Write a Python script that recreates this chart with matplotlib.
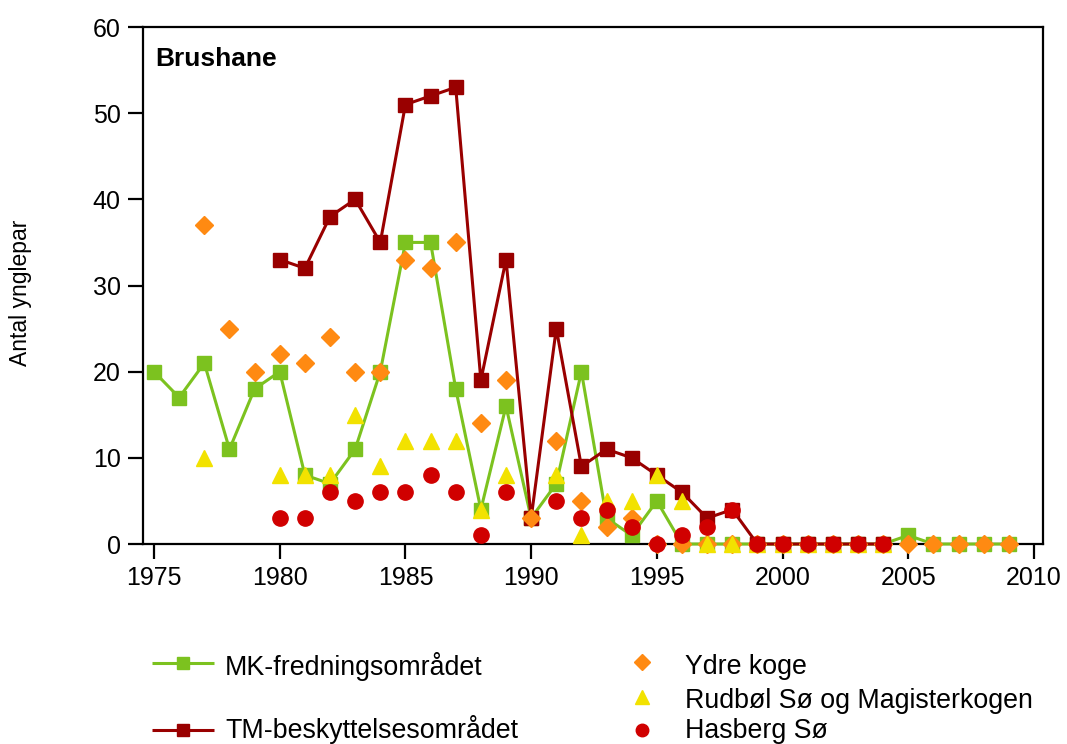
import numpy as np
import matplotlib
matplotlib.use("Agg")
import matplotlib.pyplot as plt

plt.rcParams['font.family'] = ['Liberation Sans', 'DejaVu Sans']

# MK-fredningsområdet
mk_years = list(range(1975, 2010))
mk_vals = [20, 17, 21, 11, 18, 20, 8, 7, 11, 20, 35, 35, 18, 4, 16, 3, 7, 20, 3, 1,
           5, 0, 0, 0, 0, 0, 0, 0, 0, 0, 1, 0, 0, 0, 0]

# TM-beskyttelsesområdet
tm_years = list(range(1980, 2005))
tm_vals = [33, 32, 38, 40, 35, 51, 52, 53, 19, 33, 3, 25, 9, 11, 10, 8, 6, 3, 4,
           0, 0, 0, 0, 0, 0]

# Ydre koge
yk_years = list(range(1977, 2010))
yk_vals = [37, 25, 20, 22, 21, 24, 20, 20, 33, 32, 35, 14, 19, 3, 12, 5, 2, 3,
           0, 0, 0, 0, 0, 0, 0, 0, 0, 0, 0, 0, 0, 0, 0]

# Rudbøl Sø og Magisterkogen
rs_years = [1977, 1980, 1981, 1982, 1983, 1984, 1985, 1986, 1987, 1988, 1989, 1991,
            1992, 1993, 1994, 1995, 1996, 1997, 1998, 1999, 2000, 2001, 2002, 2003, 2004]
rs_vals = [10, 8, 8, 8, 15, 9, 12, 12, 12, 4, 8, 8, 1, 5, 5, 8, 5, 0, 0, 0, 0, 0, 0, 0, 0]

# Hasberg Sø
hs_years = [1980, 1981, 1982, 1983, 1984, 1985, 1986, 1987, 1988, 1989, 1991, 1992,
            1993, 1994, 1995, 1996, 1997, 1998, 1999, 2000, 2001, 2002, 2003, 2004]
hs_vals = [3, 3, 6, 5, 6, 6, 8, 6, 1, 6, 5, 3, 4, 2, 0, 1, 2, 4, 0, 0, 0, 0, 0, 0]

green = '#7cc21f'
darkred = '#990000'
orange = '#ff8a12'
yellow = '#f2e200'
red = '#d00000'

fig = plt.figure(figsize=(10.67, 7.44), dpi=100)
ax = fig.add_axes([0.134, 0.2688, 0.8435, 0.6949])

ax.plot(mk_years, mk_vals, color=green, lw=2.2, marker='s', ms=10,
        mec=green, mfc=green, zorder=3, clip_on=False)
ax.plot(tm_years, tm_vals, color=darkred, lw=2.2, marker='s', ms=10,
        mec=darkred, mfc=darkred, zorder=4, clip_on=False)
ax.plot(yk_years, yk_vals, ls='none', marker='D', ms=9, color=orange,
        zorder=5, clip_on=False)
ax.plot(rs_years, rs_vals, ls='none', marker='^', ms=11.5, color=yellow,
        zorder=6, clip_on=False)
ax.plot(hs_years, hs_vals, ls='none', marker='o', ms=11, color=red,
        zorder=7, clip_on=False)

ax.set_xlim(1974.56, 2010.36)
ax.set_ylim(0, 60)
ax.set_xticks(np.arange(1975, 2011, 5))
ax.set_yticks(np.arange(0, 61, 10))
for s in ax.spines.values():
    s.set_linewidth(1.6)
ax.tick_params(direction='out', length=11, width=1.6, labelsize=18, pad=5)
fig.text(21 / 1067, 1 - 293 / 744, 'Antal ynglepar', rotation=90,
         fontsize=16.5, ha='center', va='center')
ax.text(0.014, 0.962, 'Brushane', transform=ax.transAxes, fontsize=19,
        fontweight='bold', va='top', ha='left')

############ legend, laid out in figure pixels ###########
lax = fig.add_axes([0, 0, 1, 1], zorder=-1)
lax.set_xlim(0, 1067)
lax.set_ylim(744, 0)
lax.axis('off')

lax.plot([152, 183, 214], [663, 663, 663], color=green, lw=2.2, marker='s',
         ms=9, markevery=[1], solid_capstyle='butt')
lax.plot([152, 183, 214], [730, 730, 730], color=darkred, lw=2.2, marker='s',
         ms=9, markevery=[1], solid_capstyle='butt')
lax.text(225, 675, 'MK-fredningsområdet', fontsize=19.3, va='baseline')
lax.text(225, 738, 'TM-beskyttelsesområdet', fontsize=19.3, va='baseline')

lax.plot([642], [662], ls='none', marker='D', ms=8, color=orange)
lax.plot([642], [697], ls='none', marker='^', ms=10, color=yellow)
lax.plot([642], [730], ls='none', marker='o', ms=9, color=red)
lax.text(685, 674, 'Ydre koge', fontsize=19.3, va='baseline')
lax.text(685, 708, 'Rudbøl Sø og Magisterkogen', fontsize=19.3, va='baseline')
lax.text(685, 738, 'Hasberg Sø', fontsize=19.3, va='baseline')

fig.savefig('out.png', dpi=100)
